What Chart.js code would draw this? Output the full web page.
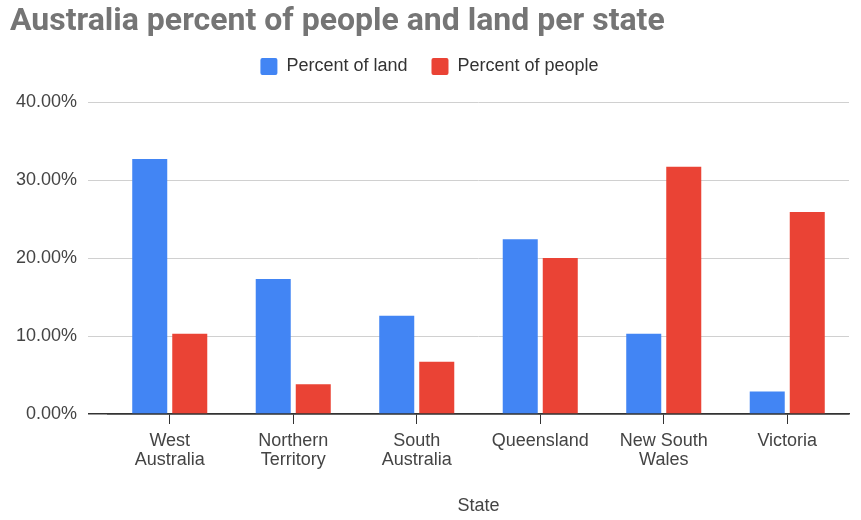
<!DOCTYPE html>
<html>
<head>
<meta charset="utf-8">
<script src="https://cdn.jsdelivr.net/npm/chart.js@4"></script>
<style>
  html, body { margin: 0; padding: 0; background: #fff; }
  #wrap { width: 861px; height: 520px; }
</style>
</head>
<body>
<div id="wrap"><canvas id="chart"></canvas></div>
<script>
var states = [["West", "Australia"], ["Northern", "Territory"], ["South", "Australia"], "Queensland", ["New South", "Wales"], "Victoria"];
var percentLand = [32.7, 17.3, 12.6, 22.4, 10.3, 2.9];
var percentPeople = [10.3, 3.8, 6.7, 20.0, 31.7, 25.9];
var yTicks = [0, 10, 20, 30, 40];

var labelFont = "'Liberation Sans', Arial, sans-serif";

// push the plot down below the legend
var legendGap = {
    id: 'legendGap',
    afterInit: function (chart) {
        var fit = chart.legend.fit;
        chart.legend.fit = function () {
            fit.call(this);
            this.height += 16.5;
        };
    }
};

var ctx = document.getElementById("chart").getContext("2d");
new Chart(ctx, {
    type: 'bar',
    data: {
        labels: states,
        datasets: [
            { label: 'Percent of land', data: percentLand, backgroundColor: '#4285F4', borderWidth: 0 },
            { label: 'Percent of people', data: percentPeople, backgroundColor: '#EA4335', borderWidth: 0 }
        ]
    },
    options: {
        responsive: true,
        maintainAspectRatio: false,
        animation: false,
        categoryPercentage: 0.648,
        barPercentage: 0.875,
        layout: { padding: { left: 10, right: 12, top: 0, bottom: 0 } },
        plugins: {
            title: {
                display: true,
                text: 'Australia percent of people and land per state',
                align: 'start',
                color: '#757575',
                font: { family: 'Roboto', size: 32, weight: 'bold', lineHeight: 1.2 },
                padding: { top: 3, bottom: -7.9 }
            },
            legend: {
                display: true,
                position: 'top',
                labels: {
                    boxWidth: 17,
                    boxHeight: 17,
                    padding: 24,
                    color: '#333',
                    font: { family: labelFont, size: 18 },
                    useBorderRadius: true,
                    borderRadius: 2
                }
            },
            tooltip: { enabled: false }
        },
        scales: {
            x: {
                offset: true,
                afterFit: function (scale) { scale.height = 106; },
                grid: {
                    offset: false,
                    drawOnChartArea: false,
                    drawTicks: true,
                    tickLength: 10,
                    color: '#333'
                },
                border: { display: true, color: '#333', width: 1.5 },
                ticks: {
                    color: '#444',
                    padding: 7.5,
                    maxRotation: 0,
                    autoSkip: false,
                    font: { family: labelFont, size: 18, lineHeight: 1.06 }
                },
                title: {
                    display: true,
                    text: 'State',
                    color: '#444',
                    font: { family: labelFont, size: 18, lineHeight: 1.2 },
                    padding: { top: 4, bottom: 3.2 }
                }
            },
            y: {
                min: 0,
                max: 40,
                afterFit: function (scale) { scale.width = 98; },
                afterBuildTicks: function (scale) {
                    scale.ticks = yTicks.map(function (v) { return { value: v }; });
                },
                grid: {
                    color: function (c) { return c.tick && c.tick.value === 0 ? '#333' : '#d0d0d0'; },
                    lineWidth: function (c) { return c.tick && c.tick.value === 0 ? 1.5 : 1; },
                    tickLength: 20
                },
                border: { display: false },
                ticks: {
                    color: '#444',
                    padding: 11,
                    font: { family: labelFont, size: 18 },
                    callback: function (v) { return v.toFixed(2) + '%'; }
                }
            }
        }
    },
    plugins: [legendGap]
});
</script>
</body>
</html>
